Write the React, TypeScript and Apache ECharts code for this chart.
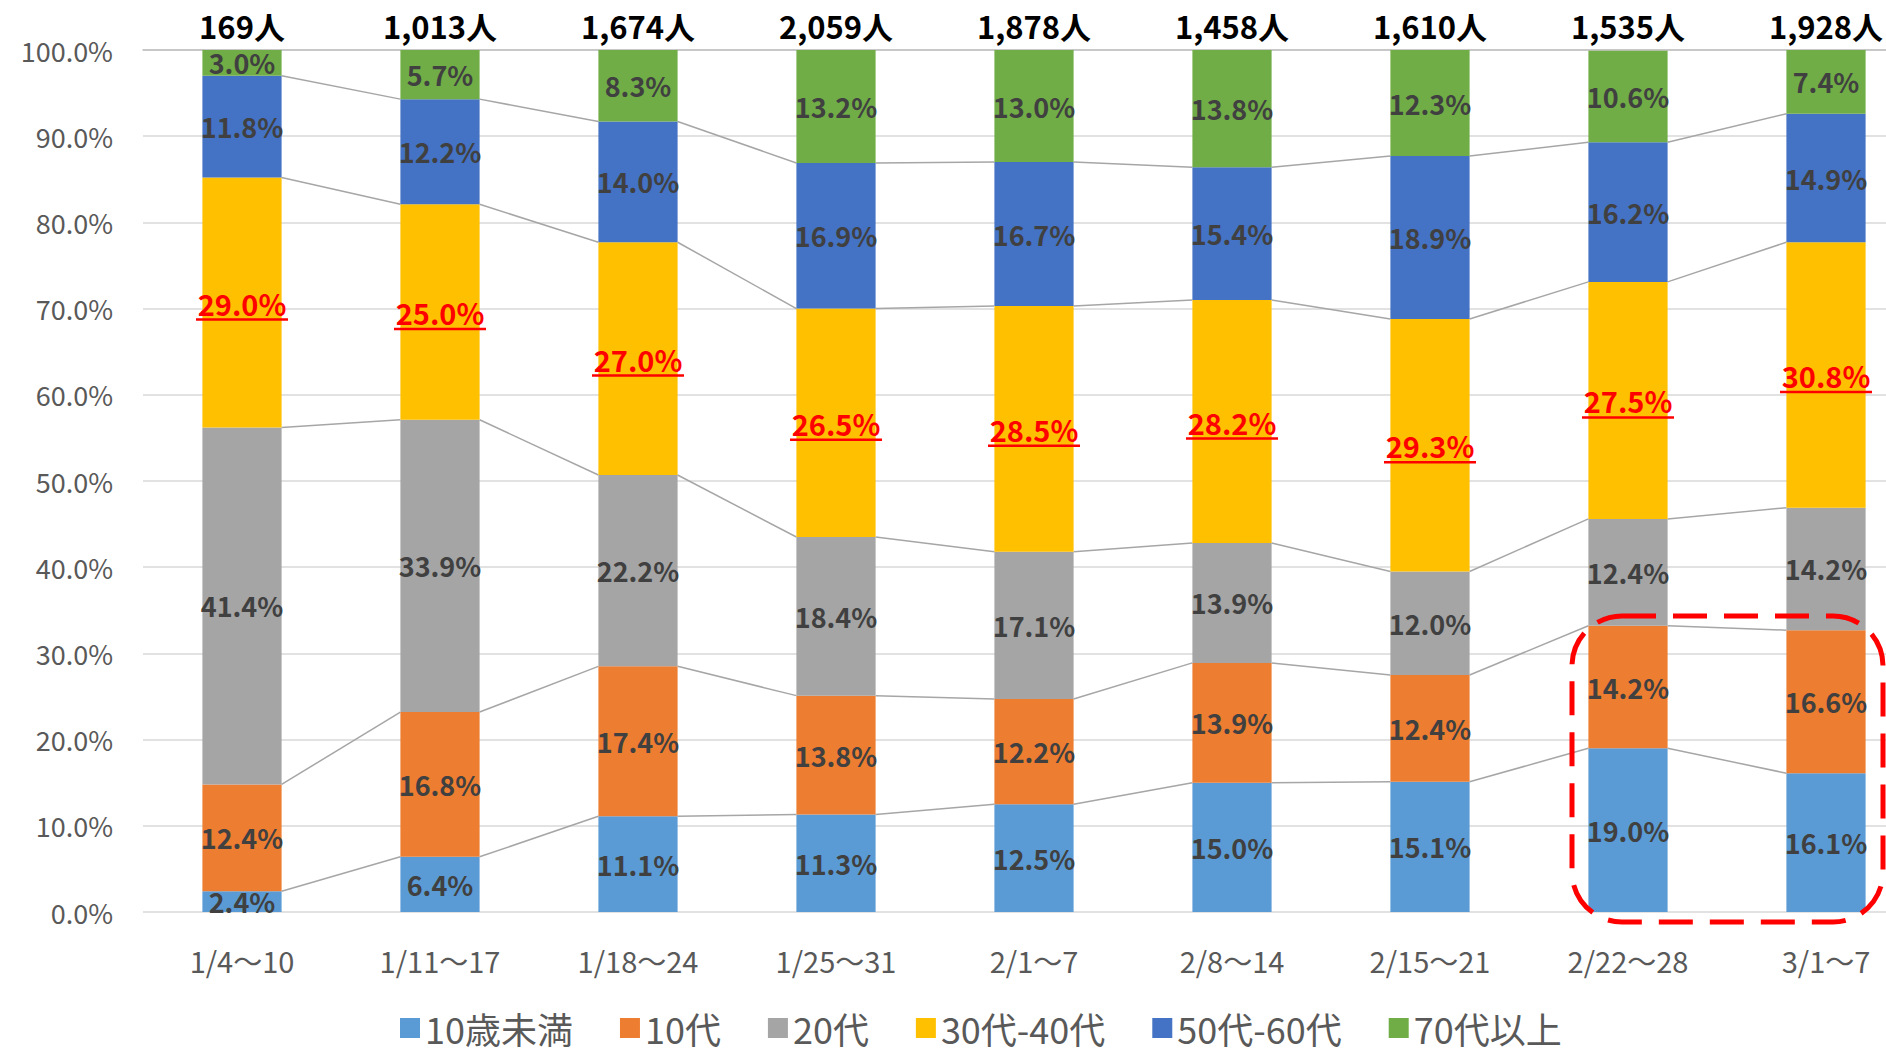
import React, { useEffect, useRef } from "react";
import * as echarts from "echarts";

const categories = ["1/4～10", "1/11～17", "1/18～24", "1/25～31", "2/1～7", "2/8～14", "2/15～21", "2/22～28", "3/1～7"];
const totals = [169, 1013, 1674, 2059, 1878, 1458, 1610, 1535, 1928];
const seriesNames = ["10歳未満", "10代", "20代", "30代-40代", "50代-60代", "70代以上"];
const under10 = [2.4, 6.4, 11.1, 11.3, 12.5, 15.0, 15.1, 19.0, 16.1];
const teens = [12.4, 16.8, 17.4, 13.8, 12.2, 13.9, 12.4, 14.2, 16.6];
const twenties = [41.4, 33.9, 22.2, 18.4, 17.1, 13.9, 12.0, 12.4, 14.2];
const thirtiesForties = [29.0, 25.0, 27.0, 26.5, 28.5, 28.2, 29.3, 27.5, 30.8];
const fiftiesSixties = [11.8, 12.2, 14.0, 16.9, 16.7, 15.4, 18.9, 16.2, 14.9];
const over70 = [3.0, 5.7, 8.3, 13.2, 13.0, 13.8, 12.3, 10.6, 7.4];
const yTicks = [0, 10, 20, 30, 40, 50, 60, 70, 80, 90, 100];

const colors = ["#5B9BD5", "#ED7D31", "#A5A5A5", "#FFC000", "#4472C4", "#70AD47"];
const FONT = "'Noto Sans CJK JP', 'Noto Sans', sans-serif";

export default function App() {
  const ref = useRef<HTMLDivElement>(null);
  useEffect(() => {
    if (!ref.current) return;
    const chart = echarts.init(ref.current, null, { renderer: "svg" });
    const all = [under10, teens, twenties, thirtiesForties, fiftiesSixties, over70];
    const cum: number[][] = all.map((_, k) =>
      categories.map((_, i) => all.slice(0, k + 1).reduce((s, arr) => s + arr[i], 0))
    );
    const connectorData: number[][] = [];
    for (let k = 0; k < 5; k++) {
      for (let i = 0; i < categories.length - 1; i++) {
        connectorData.push([i, cum[k][i], cum[k][i + 1]]);
      }
    }
    const underlineData = categories.map((_, i) => [i, cum[2][i] + thirtiesForties[i] / 2]);

    const barSeries = all.map((arr, k) => ({
      name: seriesNames[k],
      type: "bar",
      stack: "total",
      data: arr,
      barCategoryGap: "60%",
      itemStyle: { color: colors[k] },
      z: 3,
      label: {
        show: true,
        position: "inside",
        formatter: (p: any) => p.value.toFixed(1) + "%",
        fontFamily: FONT,
        fontWeight: "bold",
        fontSize: k === 3 ? 29 : 27,
        color: k === 3 ? "#FF0000" : "#404040",
      },
    }));

    chart.setOption({
      animation: false,
      textStyle: { fontFamily: FONT },
      grid: { left: 143, top: 50, width: 1782, height: 862, containLabel: false, outerBoundsMode: "none" },
      legend: {
        data: seriesNames,
        left: 400,
        top: 1008,
        itemWidth: 20,
        itemHeight: 20,
        itemGap: 47,
        icon: "rect",
        padding: 0,
        textStyle: { fontSize: 36, color: "#595959", fontFamily: FONT, lineHeight: 40 },
      },
      xAxis: [
        {
          type: "category",
          data: categories,
          axisLine: { show: false },
          axisTick: { show: false },
          axisLabel: { fontSize: 29, color: "#595959", margin: 33, fontFamily: FONT },
        },
        {
          type: "category",
          position: "top",
          data: totals.map((t) => t.toLocaleString("en-US") + "人"),
          axisLine: { show: true, lineStyle: { color: "#bfbfbf", width: 1.5 } },
          axisTick: { show: false },
          axisLabel: { fontSize: 31, color: "#000000", fontWeight: "bold", margin: 9, fontFamily: FONT },
        },
      ],
      yAxis: {
        type: "value",
        min: yTicks[0],
        max: yTicks[yTicks.length - 1],
        interval: 10,
        axisLine: { show: false },
        axisTick: { show: false },
        splitLine: { lineStyle: { color: "#d9d9d9", width: 1.5 } },
        axisLabel: {
          fontSize: 27,
          color: "#595959",
          margin: 30,
          fontFamily: FONT,
          formatter: (v: number) => v.toFixed(1) + "%",
        },
      },
      series: [
        ...barSeries,
        {
          type: "custom",
          name: "connectors",
          z: 2,
          data: connectorData,
          renderItem: (params: any, api: any) => {
            const i = api.value(0);
            const a = api.value(1);
            const b = api.value(2);
            const p1 = api.coord([i, a]);
            const p2 = api.coord([i + 1, b]);
            const hw = api.size([1, 0])[0] * 0.2;
            return {
              type: "line",
              shape: { x1: p1[0] + hw, y1: p1[1], x2: p2[0] - hw, y2: p2[1] },
              style: { stroke: "#a6a6a6", lineWidth: 1.5 },
            };
          },
        },
        {
          type: "custom",
          name: "underline",
          z: 10,
          data: underlineData,
          renderItem: (params: any, api: any) => {
            const p = api.coord([api.value(0), api.value(1)]);
            return {
              type: "line",
              shape: { x1: p[0] - 46, y1: p[1] + 17, x2: p[0] + 46, y2: p[1] + 17 },
              style: { stroke: "#FF0000", lineWidth: 2.5 },
            };
          },
        },
      ],
      graphic: [
        {
          type: "rect",
          shape: { x: 1572, y: 616, width: 311, height: 306, r: 50 },
          style: { fill: "none", stroke: "#FF0000", lineWidth: 5, lineDash: [34, 17] },
          z: 100,
        },
      ],
    });
    return () => chart.dispose();
  }, []);
  return (
    <div
      ref={ref}
      style={{ position: "fixed", left: 0, top: 0, width: 1886, height: 1051, background: "#ffffff" }}
    />
  );
}
